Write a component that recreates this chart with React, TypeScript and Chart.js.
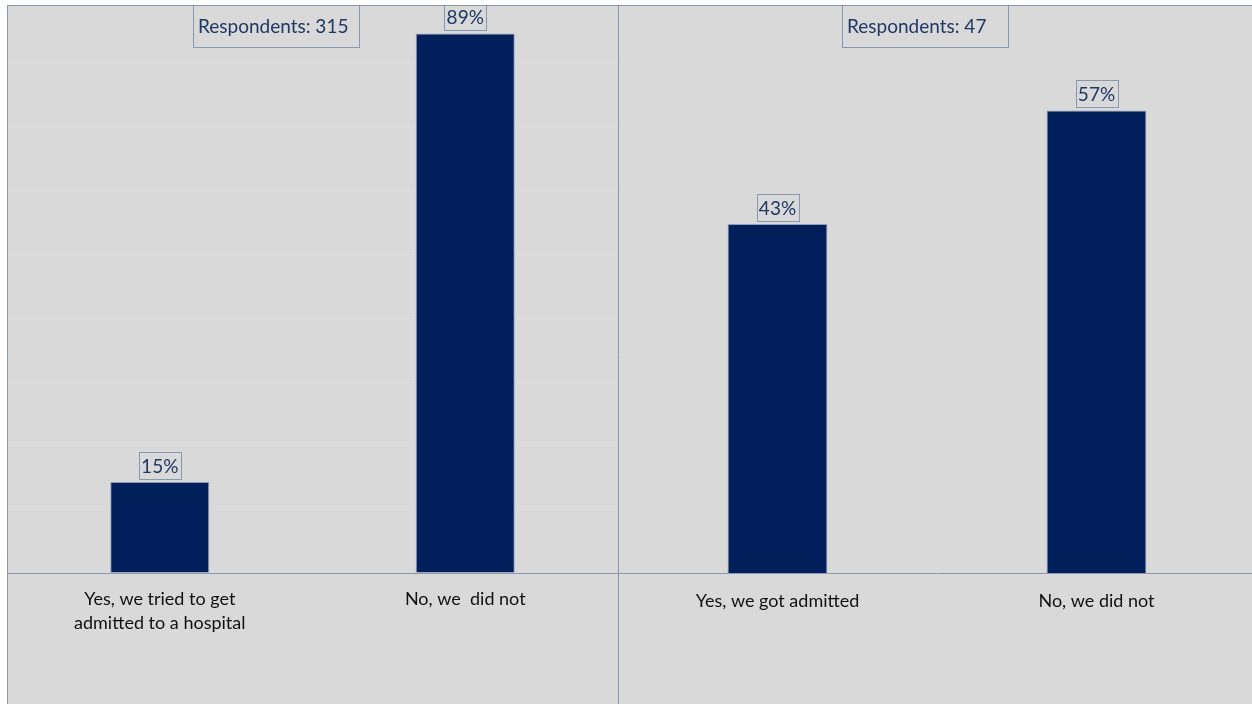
import React, { useEffect, useRef } from "react";
import { Chart, registerables } from "chart.js";

Chart.register(...registerables);

// ---- data ----
const leftCategories: (string | string[])[] = [
  ["Yes, we tried to get", "admitted to a hospital"],
  "No, we  did not",
];
const leftValues = [15, 89];
const leftRespondents = "Respondents: 315";

const rightCategories: (string | string[])[] = ["Yes, we got admitted", "No, we did not"];
const rightValues = [43, 57];
const rightRespondents = "Respondents: 47";

// ---- styles ----
const BG = "#d9d9d9";
const BAR = "#001f5b";
const LINE = "#8a97b1";
const LABEL_NAVY = "#1f3864";
const FONT = "Lato, 'Open Sans', sans-serif";

const W_LEFT = 611;
const W_RIGHT = 638;
const H = 699;
const PLOT_H = 568;

function makePlugin(respText: string, respX: number) {
  return {
    id: "decor",
    afterDraw(chart: any) {
      const ctx = chart.ctx as CanvasRenderingContext2D;
      ctx.save();
      // frame lines (top + left)
      ctx.strokeStyle = LINE;
      ctx.lineWidth = 1;
      ctx.beginPath();
      ctx.moveTo(0, 0.5);
      ctx.lineTo(chart.width, 0.5);
      ctx.moveTo(0.5, 0);
      ctx.lineTo(0.5, chart.height);
      ctx.stroke();

      // value boxes
      const meta = chart.getDatasetMeta(0);
      const data = chart.data.datasets[0].data as number[];
      ctx.font = `19px ${FONT}`;
      ctx.textAlign = "center";
      ctx.textBaseline = "middle";
      meta.data.forEach((bar: any, i: number) => {
        const txt = `${data[i]}%`;
        const tw = ctx.measureText(txt).width;
        const bw = Math.round(tw + 5);
        const bh = 27;
        const bx = Math.round(bar.x - bw / 2) + 0.5;
        const by = Math.round(bar.y - 3 - bh) + 0.5;
        ctx.strokeStyle = LINE;
        ctx.strokeRect(bx, by, bw, bh);
        ctx.fillStyle = LABEL_NAVY;
        ctx.fillText(txt, bar.x, by + bh / 2 + 1);
      });

      // respondents box
      ctx.font = `19px ${FONT}`;
      ctx.textAlign = "left";
      ctx.strokeStyle = LINE;
      ctx.strokeRect(respX + 0.5, 0.5, 166, 42);
      ctx.fillStyle = LABEL_NAVY;
      ctx.fillText(respText, respX + 5, 22);
      ctx.restore();
    },
  };
}

function makeConfig(
  labels: (string | string[])[],
  values: number[],
  yMax: number,
  barPct: number,
  grid: boolean,
  tickPad: number,
  respText: string,
  respX: number
): any {
  return {
    type: "bar",
    data: {
      labels,
      datasets: [
        {
          data: values,
          backgroundColor: BAR,
          borderColor: "rgba(132,150,176,0.9)",
          borderWidth: 1,
          barPercentage: barPct,
          categoryPercentage: 1,
        },
      ],
    },
    options: {
      responsive: false,
      animation: false,
      layout: { padding: 0 },
      plugins: { legend: { display: false }, tooltip: { enabled: false } },
      scales: {
        x: {
          grid: { display: false, drawTicks: false },
          border: { display: true, color: LINE, width: 1 },
          ticks: {
            color: "#111111",
            font: { family: FONT, size: 18, lineHeight: 1.35 },
            padding: tickPad,
            maxRotation: 0,
            autoSkip: false,
          },
          afterFit: (axis: any) => {
            axis.height = H - PLOT_H;
          },
        },
        y: {
          min: 0,
          max: yMax,
          ticks: { display: false, stepSize: 10.5 },
          border: { display: false },
          grid: { display: grid, color: "#dedede", drawTicks: false, lineWidth: 1 },
          afterFit: (axis: any) => {
            axis.width = 0;
          },
        },
      },
    },
    plugins: [makePlugin(respText, respX)],
  };
}

export default function App() {
  const leftRef = useRef<HTMLCanvasElement | null>(null);
  const rightRef = useRef<HTMLCanvasElement | null>(null);

  useEffect(() => {
    const c1 = new Chart(
      leftRef.current as HTMLCanvasElement,
      makeConfig(leftCategories, leftValues, 93.7, 0.324, true, 14, leftRespondents, 186)
    );
    const c2 = new Chart(
      rightRef.current as HTMLCanvasElement,
      makeConfig(rightCategories, rightValues, 70, 0.313, false, 16, rightRespondents, 224)
    );
    return () => {
      c1.destroy();
      c2.destroy();
    };
  }, []);

  return (
    <div
      style={{
        position: "absolute",
        left: 7,
        top: 5,
        width: 1245,
        height: H,
        background: BG,
        overflow: "hidden",
      }}
    >
      <canvas
        ref={leftRef}
        width={W_LEFT}
        height={H}
        style={{ position: "absolute", left: 0, top: 0, width: W_LEFT, height: H, display: "block" }}
      />
      <canvas
        ref={rightRef}
        width={W_RIGHT}
        height={H}
        style={{ position: "absolute", left: W_LEFT, top: 0, width: W_RIGHT, height: H, display: "block" }}
      />
    </div>
  );
}
